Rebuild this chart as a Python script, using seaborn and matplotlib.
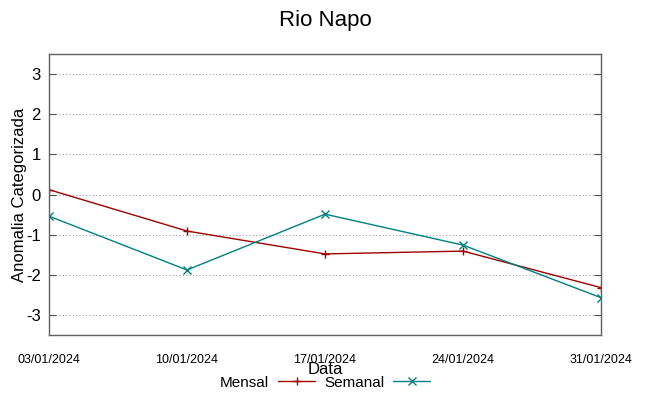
import numpy as np
import pandas as pd
import seaborn as sns
import matplotlib.pyplot as plt

# dados
datas = ['2024-01-03', '2024-01-10', '2024-01-17', '2024-01-24', '2024-01-31']
mensal = [0.12, -0.91, -1.48, -1.41, -2.32]
semanal = [-0.54, -1.88, -0.49, -1.26, -2.57]
rotulos_x = ['03/01/2024', '10/01/2024', '17/01/2024', '24/01/2024', '31/01/2024']
ticks_y = [-3, -2, -1, 0, 1, 2, 3]


def main():
    df = pd.DataFrame({
        'Data': pd.to_datetime(datas * 2),
        'valor': mensal + semanal,
        'serie': ['Mensal'] * len(datas) + ['Semanal'] * len(datas),
    })

    sns.set_style('white')
    plt.rcParams['font.family'] = ['Liberation Sans', 'DejaVu Sans']
    plt.rcParams['text.color'] = 'black'
    plt.rcParams['axes.labelcolor'] = 'black'
    plt.rcParams['xtick.color'] = 'black'
    plt.rcParams['ytick.color'] = 'black'

    fig = plt.figure(figsize=(6.49, 3.96), dpi=100)
    ax = fig.add_axes([49 / 649, 61 / 396, 552 / 649, 281 / 396])

    sns.lineplot(data=df, x='Data', y='valor', hue='serie', style='serie',
                 markers={'Mensal': '+', 'Semanal': 'x'}, dashes=False,
                 palette={'Mensal': '#a00000', 'Semanal': '#008080'},
                 linewidth=1.0, markersize=5.5, ax=ax, legend=True)
    # marcadores + e x precisam da cor da linha na borda
    for ln in ax.lines:
        ln.set_markeredgecolor(ln.get_color())
        ln.set_markeredgewidth(1.0)

    ax.set_xlim(pd.Timestamp('2024-01-03'), pd.Timestamp('2024-01-31'))
    ax.set_ylim(-3.5, 3.5)
    ax.set_yticks(ticks_y)
    ax.set_yticklabels([str(t) for t in ticks_y], fontsize=12)
    ax.set_xticks(pd.to_datetime(datas))
    ax.set_xticklabels(rotulos_x, fontsize=9,
                       family=['Liberation Sans Narrow', 'Liberation Sans'])
    ax.tick_params(axis='x', pad=14, direction='in', length=5, color='#505050')
    ax.tick_params(axis='y', pad=6, direction='in', length=5, color='#505050',
                   right=True, left=True)
    ax.yaxis.grid(True, linestyle=(0, (1, 2)), color='#a0a0a0', linewidth=0.8)
    for s in ax.spines.values():
        s.set_color('#606060')
        s.set_linewidth(1.0)

    ax.set_xlabel('Data', fontsize=12, labelpad=-3)
    ax.set_ylabel('Anomalia Categorizada', fontsize=12, labelpad=-1)
    ax.set_title('Rio Napo', fontsize=16, pad=20)

    leg = ax.legend(loc='center', bbox_to_anchor=(0.5, -0.17), ncol=2,
                    frameon=False, markerfirst=False, fontsize=11,
                    handlelength=2.4, columnspacing=0.6, handletextpad=0.6,
                    borderaxespad=0, borderpad=0)
    for h in leg.legend_handles:
        h.set_markeredgecolor(h.get_color())
        h.set_markeredgewidth(1.0)

    fig.savefig('out.png', dpi=100)


if __name__ == '__main__':
    main()
